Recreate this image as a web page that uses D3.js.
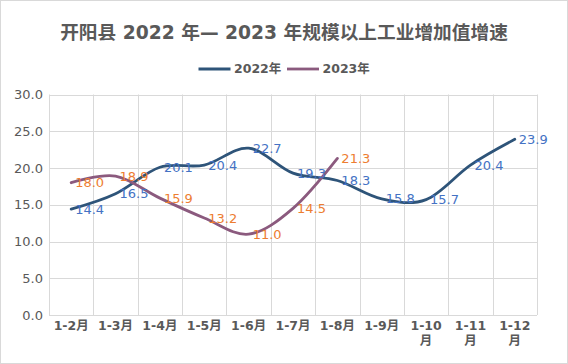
<!DOCTYPE html>
<html>
<head>
<meta charset="utf-8">
<script src="https://cdn.jsdelivr.net/npm/d3@7.9.0/dist/d3.min.js"></script>
<style>
  html, body { margin: 0; padding: 0; background: #fff; }
  svg { display: block; font-family: "DejaVu Sans", "Noto Sans CJK SC", sans-serif; }
</style>
</head>
<body>
<svg id="chart" width="568" height="364"></svg>
<script>
const months = ['1-2月', '1-3月', '1-4月', '1-5月', '1-6月', '1-7月', '1-8月', '1-9月', '1-10月', '1-11月', '1-12月'];
const values2022 = [14.4, 16.5, 20.1, 20.4, 22.7, 19.3, 18.3, 15.8, 15.7, 20.4, 23.9];
const values2023 = [18.0, 18.9, 15.9, 13.2, 11.0, 14.5, 21.3];
const yTicks = [0, 5, 10, 15, 20, 25, 30];

const series = [
  { name: '2022年', values: values2022, line: '#2E5479', label: '#4472C4' },
  { name: '2023年', values: values2023, line: '#8B5A7E', label: '#ED7D31' }
];

const svg = d3.select('#chart');
const W = 568, H = 364;
const plotLeft = 49, plotRight = 537, plotTop = 94.5, plotBottom = 315;
const grid = '#D9D9D9';
const textColor = '#595959';

// chart border
svg.append('rect')
  .attr('x', 0.5).attr('y', 0.5)
  .attr('width', W - 1).attr('height', H - 1)
  .attr('fill', '#fff').attr('stroke', grid);

const x = d3.scaleBand().domain(months).range([plotLeft, plotRight]);
const y = d3.scaleLinear().domain([0, 30]).range([plotBottom, plotTop]);

// horizontal gridlines
svg.append('g')
  .selectAll('line')
  .data(yTicks)
  .join('line')
  .attr('x1', plotLeft).attr('x2', plotRight)
  .attr('y1', d => Math.round(y(d)) + 0.5)
  .attr('y2', d => Math.round(y(d)) + 0.5)
  .attr('stroke', grid);

// vertical gridlines at category boundaries
const bounds = months.map(m => x(m)).concat([plotRight]);
svg.append('g')
  .selectAll('line')
  .data(bounds)
  .join('line')
  .attr('x1', d => Math.round(d) + 0.5).attr('x2', d => Math.round(d) + 0.5)
  .attr('y1', plotTop).attr('y2', plotBottom)
  .attr('stroke', grid);

// y axis labels
svg.append('g')
  .selectAll('text')
  .data(yTicks)
  .join('text')
  .attr('x', 43)
  .attr('y', d => y(d))
  .attr('dy', '0.35em')
  .attr('text-anchor', 'end')
  .attr('font-size', 13)
  .attr('fill', textColor)
  .text(d => d.toFixed(1));

// x axis labels (wrap long ones before 月)
const xl = svg.append('g')
  .selectAll('text')
  .data(months)
  .join('text')
  .attr('x', d => x(d) + x.bandwidth() / 2)
  .attr('y', 330)
  .attr('text-anchor', 'middle')
  .attr('font-size', 12.5)
  .attr('font-weight', 'bold')
  .attr('fill', textColor);

xl.each(function (d) {
  const t = d3.select(this);
  const lines = d.length > 4 ? [d.slice(0, -1), d.slice(-1)] : [d];
  lines.forEach((s, i) => {
    t.append('tspan')
      .attr('x', x(d) + x.bandwidth() / 2)
      .attr('dy', i === 0 ? 0 : 15)
      .text(s);
  });
});

// lines
const lineGen = d3.line()
  .x((d, i) => x(months[i]) + x.bandwidth() / 2)
  .y(d => y(d))
  .curve(d3.curveCatmullRom.alpha(0));

series.forEach(s => {
  svg.append('path')
    .datum(s.values)
    .attr('d', lineGen)
    .attr('fill', 'none')
    .attr('stroke', s.line)
    .attr('stroke-width', 2.8)
    .attr('stroke-linecap', 'round');
});

// data labels
series.forEach(s => {
  svg.append('g')
    .selectAll('text')
    .data(s.values)
    .join('text')
    .attr('x', (d, i) => x(months[i]) + x.bandwidth() / 2 + 4)
    .attr('y', d => y(d))
    .attr('dy', '0.35em')
    .attr('font-size', 13)
    .attr('fill', s.label)
    .text(d => d.toFixed(1));
});

// title
svg.append('text')
  .attr('x', W / 2)
  .attr('y', 39)
  .attr('text-anchor', 'middle')
  .attr('font-size', 18.7)
  .attr('font-weight', 'bold')
  .attr('fill', textColor)
  .text('开阳县 2022 年— 2023 年规模以上工业增加值增速');

// legend
const legendX = [198.5, 287];
series.forEach((s, i) => {
  const g = svg.append('g').attr('transform', `translate(${legendX[i]},69)`);
  g.append('line')
    .attr('x1', 0).attr('x2', 32)
    .attr('stroke', s.line)
    .attr('stroke-width', 2.8);
  g.append('text')
    .attr('x', 35.5)
    .attr('dy', '0.35em')
    .attr('font-size', 12.5)
    .attr('font-weight', 'bold')
    .attr('fill', textColor)
    .text(s.name);
});
</script>
</body>
</html>
